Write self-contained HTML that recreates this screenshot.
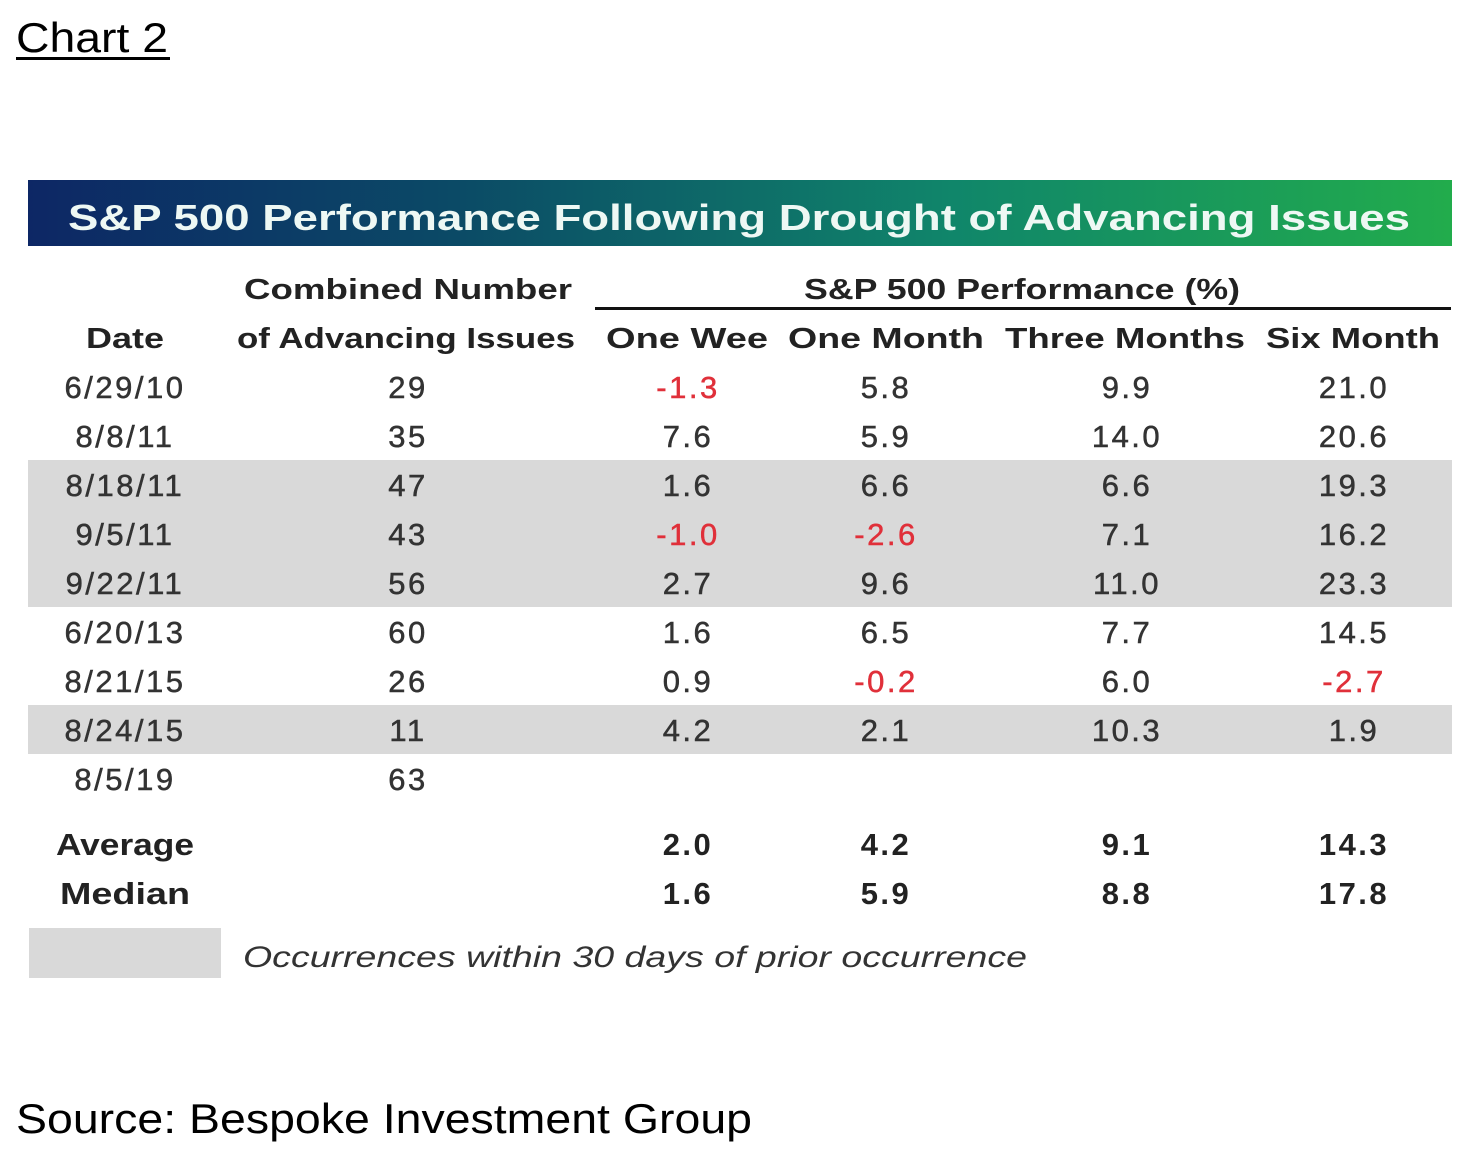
<!DOCTYPE html>
<html><head><meta charset="utf-8"><style>
html,body{margin:0;padding:0;background:#fff;}
svg{display:block;font-family:"Liberation Sans",sans-serif;}
</style></head><body>
<svg id="chart" width="1484" height="1166" viewBox="0 0 1484 1166" xmlns="http://www.w3.org/2000/svg">
<defs>
<linearGradient id="bg" x1="0" x2="1" y1="0" y2="0">
<stop offset="0" stop-color="#0d2765"/><stop offset="0.3" stop-color="#0b4a66"/><stop offset="0.65" stop-color="#10866a"/><stop offset="1" stop-color="#22ac4c"/>
</linearGradient>
</defs>
<text x="16" y="52" font-size="42" fill="#000" textLength="152" lengthAdjust="spacingAndGlyphs">Chart 2</text>
<rect x="16" y="57" width="154" height="3" fill="#000"/>
<rect x="28" y="180" width="1424" height="66" fill="url(#bg)"/>
<text x="68" y="230" font-size="36" font-weight="bold" fill="#eef8f4" textLength="1342" lengthAdjust="spacingAndGlyphs">S&amp;P 500 Performance Following Drought of Advancing Issues</text>
<g id="bands"></g>
<g font-weight="bold" font-size="29" fill="#222" text-anchor="middle">
<text x="408" y="299" textLength="328" lengthAdjust="spacingAndGlyphs">Combined Number</text>
<text x="1022" y="299" textLength="436" lengthAdjust="spacingAndGlyphs">S&amp;P 500 Performance (%)</text>
<text x="125" y="348" textLength="78" lengthAdjust="spacingAndGlyphs">Date</text>
<text x="406" y="348" textLength="338" lengthAdjust="spacingAndGlyphs">of Advancing Issues</text>
<text x="687" y="348" textLength="162" lengthAdjust="spacingAndGlyphs">One Wee</text>
<text x="886" y="348" textLength="196" lengthAdjust="spacingAndGlyphs">One Month</text>
<text x="1125" y="348" textLength="240" lengthAdjust="spacingAndGlyphs">Three Months</text>
<text x="1353" y="348" textLength="174" lengthAdjust="spacingAndGlyphs">Six Month</text>
</g>
<rect x="595" y="307" width="856" height="3" fill="#111"/>
<g id="rows" font-size="31" fill="#333" text-anchor="middle" letter-spacing="2.5" stroke="#333" stroke-width="0.5"></g>
<rect x="29" y="928" width="192" height="50" fill="#d9d9d9"/>
<text x="243" y="967" font-size="30" font-style="italic" fill="#333" textLength="784" lengthAdjust="spacingAndGlyphs">Occurrences within 30 days of prior occurrence</text>
<text x="16" y="1133" font-size="42" fill="#000" textLength="736" lengthAdjust="spacingAndGlyphs">Source: Bespoke Investment Group</text>
</svg>
<script>
const dates=["6/29/10","8/8/11","8/18/11","9/5/11","9/22/11","6/20/13","8/21/15","8/24/15","8/5/19"];
const advancing=["29","35","47","43","56","60","26","11","63"];
const oneWeek=["-1.3","7.6","1.6","-1.0","2.7","1.6","0.9","4.2",""];
const oneMonth=["5.8","5.9","6.6","-2.6","9.6","6.5","-0.2","2.1",""];
const threeMonths=["9.9","14.0","6.6","7.1","11.0","7.7","6.0","10.3",""];
const sixMonths=["21.0","20.6","19.3","16.2","23.3","14.5","-2.7","1.9",""];
const shaded=[false,false,true,true,true,false,false,true,false];
const summaryLabels=["Average","Median"];
const summaryWeek=["2.0","1.6"];
const summaryMonth=["4.2","5.9"];
const summaryThree=["9.1","8.8"];
const summarySix=["14.3","17.8"];
const NS="http://www.w3.org/2000/svg";
const colX=[125,408,688,886,1127,1354];
const rowY=i=>387+i*49;
const rows=document.getElementById('rows'),bands=document.getElementById('bands');
function txt(parent,x,y,s,name,opts){
  const t=document.createElementNS(NS,'text');
  t.setAttribute('x',x);t.setAttribute('y',y);
  
  
  if(opts&&opts.bold){t.setAttribute('font-weight','bold');t.setAttribute('fill','#222');t.setAttribute('stroke','none');}
  if(s.startsWith('-')){t.setAttribute('fill','#e0303a');t.setAttribute('stroke','#e0303a');}
  t.textContent=s;parent.appendChild(t);return t;
}
dates.forEach((d,i)=>{
  const y=rowY(i);
  if(shaded[i]){
    const r=document.createElementNS(NS,'rect');
    r.setAttribute('x',28);r.setAttribute('y',y-25);r.setAttribute('width',1424);r.setAttribute('height',49);r.setAttribute('fill','#d9d9d9');
    
    
    bands.appendChild(r);
  }
  const cols=[d,advancing[i],oneWeek[i],oneMonth[i],threeMonths[i],sixMonths[i]];
  const names=['date','advancing','one-week','one-month','three-months','six-months'];
  cols.forEach((v,c)=>{ if(v!=="") txt(rows,colX[c],y+11,v,'cell-'+names[c]+'-'+(i+1)); });
});
summaryLabels.forEach((l,i)=>{
  const y=855+i*49;
  const t=txt(rows,125,y,l,'summary-label-'+l.toLowerCase(),{bold:true});
  t.setAttribute('letter-spacing','0');
  t.setAttribute('textLength',i===0?138:130);
  t.setAttribute('lengthAdjust','spacingAndGlyphs');
  [summaryWeek[i],summaryMonth[i],summaryThree[i],summarySix[i]].forEach((v,c)=>{
    txt(rows,colX[c+2],y,v,'summary-'+l.toLowerCase()+'-'+c,{bold:true});
  });
});
</script>
</body></html>
